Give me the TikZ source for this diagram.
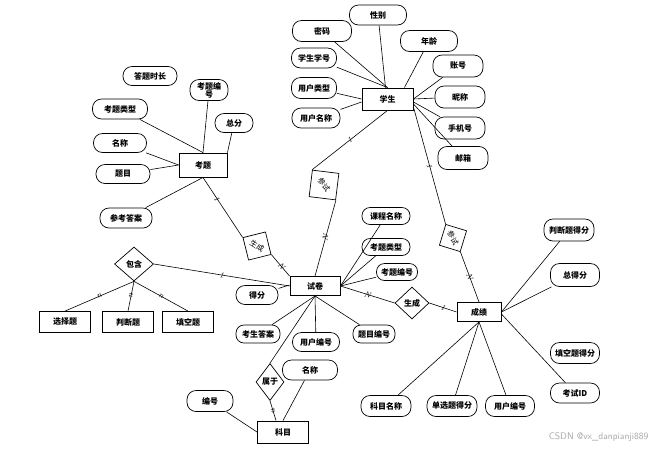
\documentclass[tikz,border=0pt]{standalone}
\usepackage{fontspec}
\newfontfamily\cjk{Noto Sans CJK SC}
\usetikzlibrary{shapes.geometric}
\begin{document}
\begin{tikzpicture}[x=1pt,y=-1pt,
  font=\cjk\bfseries\fontsize{8}{9}\selectfont,
  ent/.style={draw, line width=0.9pt, inner sep=0pt, minimum width=50pt, minimum height=20pt},
  attr/.style={draw, line width=0.7pt, rounded corners=9pt, inner sep=1pt, minimum width=50pt, minimum height=20pt},
  rel/.style={diamond, draw, line width=0.7pt, inner sep=0pt},
  rrel/.style={diamond, draw, line width=0.7pt, inner sep=0pt, font=\cjk\fontsize{7.5}{8}\selectfont},
  lnk/.style={line width=0.6pt},
  lab/.style={font=\rmfamily\itshape\fontsize{8}{8}\selectfont, sloped, inner sep=0pt}]
\useasboundingbox[fill=white] (0,0) rectangle (661,451);

% entities
\node[ent, minimum width=51pt, minimum height=22pt] (stu) at (387.5,99) {学生};
\node[ent, minimum width=48pt, minimum height=24pt] (kt) at (203,165) {考题};
\node[ent, minimum width=50pt, minimum height=19pt] (sj) at (315,286) {试卷};
\node[ent, minimum width=44pt, minimum height=19pt] (cj) at (479,312) {成绩};
\node[ent, minimum width=51pt, minimum height=22pt] (km) at (283,432) {科目};
\node[ent, minimum width=51pt, minimum height=21pt] (xzt) at (65,322) {选择题};
\node[ent, minimum width=51pt, minimum height=21pt] (pdt) at (128,322) {判断题};
\node[ent, minimum width=51pt, minimum height=21pt] (tkt) at (188,322) {填空题};

% 学生 attributes
\node[attr, minimum width=59pt, minimum height=21pt] (mm) at (322,31) {密码};
\node[attr, minimum width=57pt] (xb) at (378,15) {性别};
\node[attr, minimum width=57pt, minimum height=21pt] (nl) at (429,41) {年龄};
\node[attr, minimum width=45pt] (xsxh) at (314,58) {学生学号};
\node[attr, minimum width=45pt, minimum height=21pt] (yhlx) at (314,88) {用户类型};
\node[attr, minimum width=48pt] (yhmc) at (316,118) {用户名称};
\node[attr, minimum height=22pt] (zh) at (458,66) {账号};
\node[attr, minimum height=22pt] (nc) at (460,97) {昵称};
\node[attr, minimum height=22pt] (sjh) at (460,128) {手机号};
\node[attr, minimum height=23pt] (yx) at (463,158) {邮箱};

% 考题 attributes
\node[attr, minimum width=54pt, minimum height=19pt] (dtsc) at (150,76) {答题时长};
\node[attr, minimum width=38pt, minimum height=21pt, align=center, font=\cjk\bfseries\fontsize{8}{8}\selectfont] (ktbh) at (209,90) {考题编\\号};
\node[attr, minimum width=55pt] (ktlx) at (120,109) {考题类型};
\node[attr, minimum width=38pt, minimum height=19pt] (zf) at (234,123) {总分};
\node[attr, minimum width=53pt, minimum height=19pt] (mc) at (120,143) {名称};
\node[attr, minimum width=54pt, minimum height=19pt] (tm) at (123,174) {题目};
\node[attr, minimum width=52pt] (ckda) at (126,218) {参考答案};

% 试卷 attributes
\node[attr, rounded corners=8pt, minimum width=48pt, minimum height=17pt] (kcmc) at (386,216) {课程名称};
\node[attr, rounded corners=8pt, minimum width=48pt, minimum height=17pt] (ktlx2) at (386,247) {考题类型};
\node[attr, rounded corners=8pt, minimum width=41pt, minimum height=17pt] (ktbh2) at (397,272) {考题编号};
\node[attr, minimum width=42pt, minimum height=19pt] (df) at (257,295) {得分};
\node[attr, rounded corners=8pt, minimum width=44pt, minimum height=18pt] (kssda) at (258,334) {考生答案};
\node[attr, minimum width=47pt, minimum height=19pt] (yhbh) at (316,342) {用户编号};
\node[attr, rounded corners=8pt, minimum width=42pt, minimum height=18pt] (tmbh) at (374,334) {题目编号};

% 成绩 attributes
\node[attr, minimum height=22pt] (pdtdf) at (569,230) {判断题得分};
\node[attr, minimum width=49pt, minimum height=23pt] (zdf) at (575,275) {总得分};
\node[attr, minimum width=49pt, minimum height=21pt] (tktdf) at (575,353) {填空题得分};
\node[attr, minimum width=49pt] (ksid) at (575,393) {考试ID};
\node[attr, minimum height=21pt] (kmmc) at (386,406) {科目名称};
\node[attr, minimum height=21pt] (dxtdf) at (452,406) {单选题得分};
\node[attr, minimum width=49pt, minimum height=21pt] (yhbh2) at (510,406) {用户编号};

% 科目 attributes
\node[attr, minimum width=55pt] (mc2) at (310,370) {名称};
\node[attr, minimum width=46pt, minimum height=21pt] (bh) at (210,401) {编号};

% relations
\node[rel, minimum width=39pt, minimum height=34pt] (bh1) at (134,264) {包含};
\node[rel, minimum width=34pt, minimum height=32pt] (sc2) at (412,303) {生成};
\node[rel, minimum width=28pt, minimum height=37pt] (sy) at (270,382) {属于};
\node[rrel, minimum width=33pt, minimum height=33pt, rotate=-31] (sc1) at (257,246) {生成};
\node[rrel, minimum width=38pt, minimum height=38pt, rotate=-52] (cs1) at (324,185) {参试};
\node[rrel, minimum width=31pt, minimum height=31pt, rotate=-62] (cs2) at (453,238) {参试};

% 学生 links
\draw[lnk] (mm) -- (stu.north);
\draw[lnk] (xb) -- ([xshift=-2pt]stu.north);
\draw[lnk] (nl) -- ([xshift=-9pt]stu.north east);
\draw[lnk] (xsxh) -- (stu.north);
\draw[lnk] (yhlx) -- (stu.west);
\draw[lnk] (yhmc) -- ([yshift=-3pt]stu.west);
\draw[lnk] (zh) -- (stu.east);
\draw[lnk] (nc) -- (stu.east);
\draw[lnk] (sjh) -- ([yshift=-3pt]stu.east);
\draw[lnk] (yx) -- ([yshift=-5pt]stu.east);
\draw[lnk] (stu.south) -- node[lab]{1} (cs1.west);
\draw[lnk] (cs1.east) -- node[lab]{N} (sj.north);
\draw[lnk] ([yshift=-8pt]stu.east) -- node[lab]{1} (cs2.west);
\draw[lnk] (cs2.east) -- node[lab]{N} (cj.north);

% 考题 links
\draw[lnk] (ktlx) -- (kt.north);
\draw[lnk] (ktbh) -- (kt.north);
\draw[lnk] (zf) -- (kt.north east);
\draw[lnk] (mc) -- (kt.west);
\draw[lnk] (tm) -- (kt.west);
\draw[lnk] (ckda) -- (kt.south);
\draw[lnk] (kt.south) -- node[lab, pos=0.35]{1} (sc1.west);
\draw[lnk] (sc1.east) -- node[lab, pos=0.55]{N} (sj.north west);

% 试卷 links
\draw[lnk] (kcmc) -- (sj.east);
\draw[lnk] (ktlx2) -- (sj.east);
\draw[lnk] (ktbh2) -- (sj.east);
\draw[lnk] (df) -- ([yshift=1pt]sj.west);
\draw[lnk] (bh1.east) -- node[lab]{1} (sj.west);
\draw[lnk] (kssda) -- (sj.south);
\draw[lnk] (yhbh) -- (sj.south);
\draw[lnk] (tmbh) -- (sj.south);
\draw[lnk] (sy.north) -- (sj.south);
\draw[lnk] (sj.east) -- node[lab]{N} (sc2.west);
\draw[lnk] (sc2.east) -- node[lab]{1} (cj.west);

% 成绩 links
\draw[lnk] (pdtdf) -- (cj.east);
\draw[lnk] (zdf) -- (cj.east);
\draw[lnk] (ksid) -- ([yshift=-2pt]cj.east);
\draw[lnk] (kmmc) -- (cj.south);
\draw[lnk] (dxtdf) -- (cj.south);
\draw[lnk] (yhbh2) -- (cj.south);

% 科目 links
\draw[lnk] (sy.south) -- node[lab]{n} ([xshift=-7pt]km.north);
\draw[lnk] (mc2) -- (km.north);
\draw[lnk] (bh) -- (km.west);

% 包含 links
\draw[lnk] (bh1.south) -- node[lab]{n} (xzt.north);
\draw[lnk] (bh1.south) -- node[lab]{n} (pdt.north);
\draw[lnk] (bh1.south) -- node[lab]{n} (tkt.north);

% watermark
\node[font=\fontsize{9.5}{10}\selectfont\sffamily, text=black!35, anchor=east] (wm) at (652,437) {CSDN @vx\_danpianji889};
\end{tikzpicture}
\end{document}
